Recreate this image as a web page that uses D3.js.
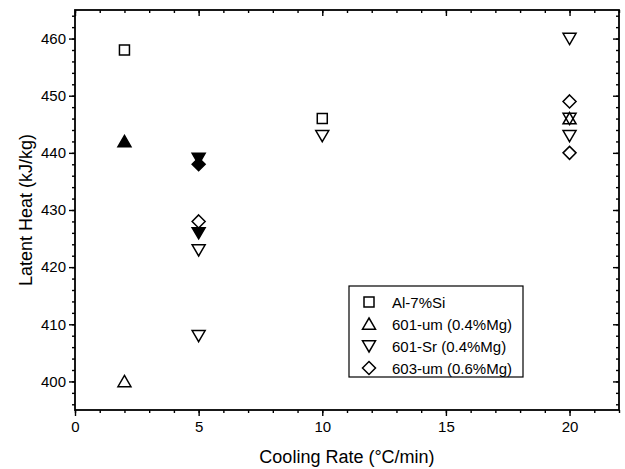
<!DOCTYPE html>
<html>
<head>
<meta charset="utf-8">
<script src="https://cdn.jsdelivr.net/npm/d3@7"></script>
<style>
  body { margin: 0; background: #fff; }
  text { font-family: "Liberation Sans", Arial, sans-serif; fill: #000; }
</style>
</head>
<body>
<div id="chart"></div>
<script>
// data
var alSiX = [2, 10],
    alSiY = [458, 446],
    alSiFilled = [false, false];
var um601X = [2, 2, 20],
    um601Y = [400, 442, 446],
    um601Filled = [false, true, false];
var sr601X = [5, 5, 5, 5, 10, 20, 20, 20],
    sr601Y = [439, 426, 423, 408, 443, 460, 446, 443],
    sr601Filled = [true, true, false, false, false, false, false, false];
var um603X = [5, 5, 20, 20],
    um603Y = [438, 428, 449, 440],
    um603Filled = [true, false, false, false];

var xTicks = [0, 5, 10, 15, 20],
    yTicks = [400, 410, 420, 430, 440, 450, 460];
var legendNames = ["Al-7%Si", "601-um (0.4%Mg)", "601-Sr (0.4%Mg)", "603-um (0.6%Mg)"];

var W = 625, H = 469;
var margin = {top: 10, right: 6, bottom: 59, left: 75};
var width = W - margin.left - margin.right,
    height = H - margin.top - margin.bottom;

var svg = d3.select("#chart").append("svg")
  .attr("width", W)
  .attr("height", H);

var g = svg.append("g")
  .attr("transform", "translate(" + margin.left + "," + margin.top + ")");

var x = d3.scaleLinear().domain([0, 22]).range([0, width]);
var y = d3.scaleLinear().domain([395, 465]).range([height, 0]);

// minor ticks
var xMinor = d3.range(0, 23, 1), yMinor = d3.range(396, 465, 2);

function styleAxis(sel) {
  sel.select(".domain").remove();
  sel.selectAll("line").attr("stroke", "#000").attr("stroke-width", 1.4);
  sel.selectAll("text").style("font-size", "15px").style("font-family", "Liberation Sans, Arial, sans-serif");
}

// bottom
g.append("g").attr("transform", "translate(0," + height + ")")
  .call(d3.axisBottom(x).tickValues(xMinor).tickSize(3).tickFormat(""))
  .call(styleAxis);
g.append("g").attr("transform", "translate(0," + height + ")")
  .call(d3.axisBottom(x).tickValues(xTicks).tickSize(6).tickPadding(5).tickFormat(d3.format("d")))
  .call(styleAxis);
// left
g.append("g")
  .call(d3.axisLeft(y).tickValues(yMinor).tickSize(3).tickFormat(""))
  .call(styleAxis);
g.append("g")
  .call(d3.axisLeft(y).tickValues(yTicks).tickSize(6).tickPadding(3).tickFormat(d3.format("d")))
  .call(styleAxis);
// top (inward)
g.append("g")
  .call(d3.axisBottom(x).tickValues(xMinor).tickSize(3).tickFormat(""))
  .call(styleAxis);
g.append("g")
  .call(d3.axisBottom(x).tickValues(xTicks).tickSize(6).tickFormat(""))
  .call(styleAxis);
// right (inward)
g.append("g").attr("transform", "translate(" + width + ",0)")
  .call(d3.axisLeft(y).tickValues(yMinor).tickSize(3).tickFormat(""))
  .call(styleAxis);
g.append("g").attr("transform", "translate(" + width + ",0)")
  .call(d3.axisLeft(y).tickValues(yTicks).tickSize(6).tickFormat(""))
  .call(styleAxis);

// frame
g.append("rect")
  .attr("width", width).attr("height", height)
  .attr("fill", "none").attr("stroke", "#000").attr("stroke-width", 1.8);

// marker shapes
function shapePath(kind) {
  if (kind === "square") return "M-5,-5H5V5H-5Z";
  if (kind === "up") return "M0,-6L6.5,5.2H-6.5Z";
  if (kind === "down") return "M0,6L6.5,-5.2H-6.5Z";
  return "M0,-6.5L6.5,0L0,6.5L-6.5,0Z";
}

var series = [
  {kind: "square", xs: alSiX, ys: alSiY, filled: alSiFilled},
  {kind: "up", xs: um601X, ys: um601Y, filled: um601Filled},
  {kind: "down", xs: sr601X, ys: sr601Y, filled: sr601Filled},
  {kind: "diamond", xs: um603X, ys: um603Y, filled: um603Filled}
];

series.forEach(function (s) {
  var pts = s.xs.map(function (d, i) { return {x: d, y: s.ys[i], f: s.filled[i]}; });
  g.selectAll(null)
    .data(pts)
    .enter()
    .append("path")
    .attr("d", shapePath(s.kind))
    .attr("transform", function (d) { return "translate(" + x(d.x) + "," + y(d.y) + ")"; })
    .attr("fill", function (d) { return d.f ? "#000" : "none"; })
    .attr("stroke", "#000")
    .attr("stroke-width", 1.5);
});

// legend
var legend = g.append("g").attr("transform", "translate(274,276)");
legend.append("rect")
  .attr("width", 174).attr("height", 91)
  .attr("fill", "#fff").attr("stroke", "#000").attr("stroke-width", 1.2);
series.forEach(function (s, i) {
  var row = legend.append("g").attr("transform", "translate(20," + (16 + i * 22) + ")");
  row.append("path")
    .attr("d", shapePath(s.kind))
    .attr("fill", "none").attr("stroke", "#000").attr("stroke-width", 1.5);
  row.append("text")
    .attr("x", 23).attr("y", 5.5)
    .style("font-size", "15px")
    .text(legendNames[i]);
});

// axis titles
svg.append("text")
  .attr("x", margin.left + width / 2)
  .attr("y", 463)
  .attr("text-anchor", "middle")
  .style("font-size", "18px")
  .text("Cooling Rate (°C/min)");

svg.append("text")
  .attr("transform", "translate(32," + (margin.top + height / 2) + ") rotate(-90)")
  .attr("text-anchor", "middle")
  .style("font-size", "18px")
  .text("Latent Heat (kJ/kg)");
</script>
</body>
</html>
